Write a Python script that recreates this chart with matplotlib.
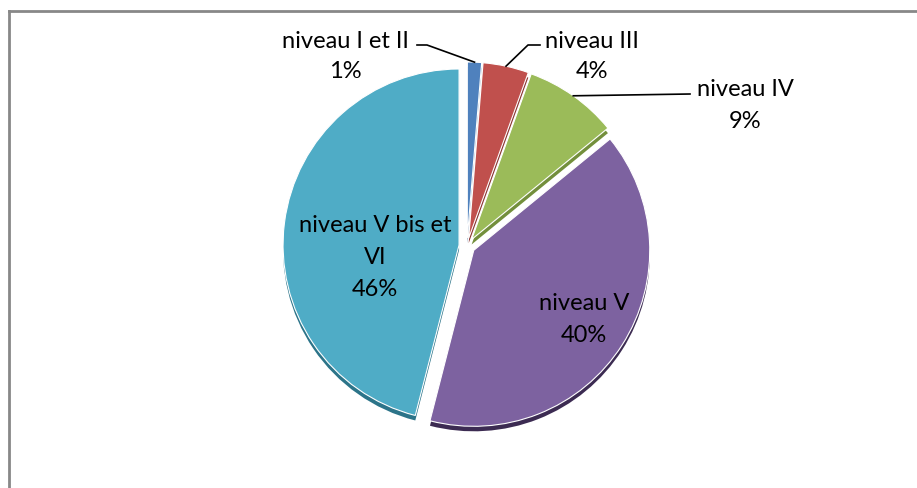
import numpy as np
import matplotlib.pyplot as plt

plt.rcParams['font.family'] = ['Lato', 'DejaVu Sans']

# Data
categories = ['niveau I et II', 'niveau III', 'niveau IV', 'niveau V', 'niveau V bis et\nVI']
shares = [1.3, 4.2, 8.6, 39.9, 46.0]
colors = ['#4F81BD', '#C0504D', '#9BBB59', '#7D62A0', '#4FACC6']
rim_colors = ['#2F5A8A', '#8A3331', '#738F3C', '#3C2B52', '#2C7489']

W, H = 917, 488
fig = plt.figure(figsize=(W / 100, H / 100), dpi=100)
ax = fig.add_axes([0, 0, 1, 1])

# work in pixel units, y measured from the bottom
cx, cy, R = 467, H - 246, 176
expl = [8] * len(shares)

# darker copy shifted down gives the 3d rim
ax.pie(shares, colors=rim_colors, radius=R, center=(cx, cy - 5), startangle=90,
       counterclock=False, explode=expl, wedgeprops=dict(linewidth=0))
wedges, _ = ax.pie(shares, colors=colors, radius=R, center=(cx, cy), startangle=90,
                   counterclock=False, explode=expl,
                   wedgeprops=dict(linewidth=0.8, edgecolor='white'))

pct = ['%d%%' % round(v) for v in shares]
fs = 17


def anchor(w, frac=0.5):
    t = np.deg2rad(w.theta1 + frac * (w.theta2 - w.theta1))
    return w.center[0] + w.r * np.cos(t), w.center[1] + w.r * np.sin(t)


def px(y):
    return H - y


# outside labels with leader lines
ax.text(345, px(42), categories[0], ha='center', va='center', fontsize=fs)
ax.text(345, px(72), pct[0], ha='center', va='center', fontsize=fs)
ax_, ay_ = anchor(wedges[0])
ax.plot([417, 427, ax_], [px(45), px(45), ay_], color='black', lw=1.2)

ax.text(592, px(42), categories[1], ha='center', va='center', fontsize=fs)
ax.text(592, px(72), pct[1], ha='center', va='center', fontsize=fs)
ax_, ay_ = anchor(wedges[1])
ax.plot([540, 528, ax_], [px(45), px(45), ay_], color='black', lw=1.2)

ax.text(745, px(90), categories[2], ha='center', va='center', fontsize=fs)
ax.text(745, px(122), pct[2], ha='center', va='center', fontsize=fs)
ax_, ay_ = anchor(wedges[2])
ax.plot([690, ax_], [px(94), ay_], color='black', lw=1.2)

# inside labels
ax.text(584, px(303), categories[3], ha='center', va='center', fontsize=fs)
ax.text(584, px(335), pct[3], ha='center', va='center', fontsize=fs)

l1, l2 = categories[4].split('\n')
ax.text(375, px(225), l1, ha='center', va='center', fontsize=fs)
ax.text(375, px(258), l2, ha='center', va='center', fontsize=fs)
ax.text(375, px(290), pct[4], ha='center', va='center', fontsize=fs)

# chart frame (top and left edges only are visible)
ax.plot([8.5, W], [px(11), px(11)], color='#888888', lw=2, clip_on=False)
ax.plot([8.5, 8.5], [0, px(11)], color='#888888', lw=2, clip_on=False)

ax.set_xlim(0, W)
ax.set_ylim(0, H)
ax.set_aspect('auto')
ax.axis('off')

fig.savefig('out.png', dpi=100)
